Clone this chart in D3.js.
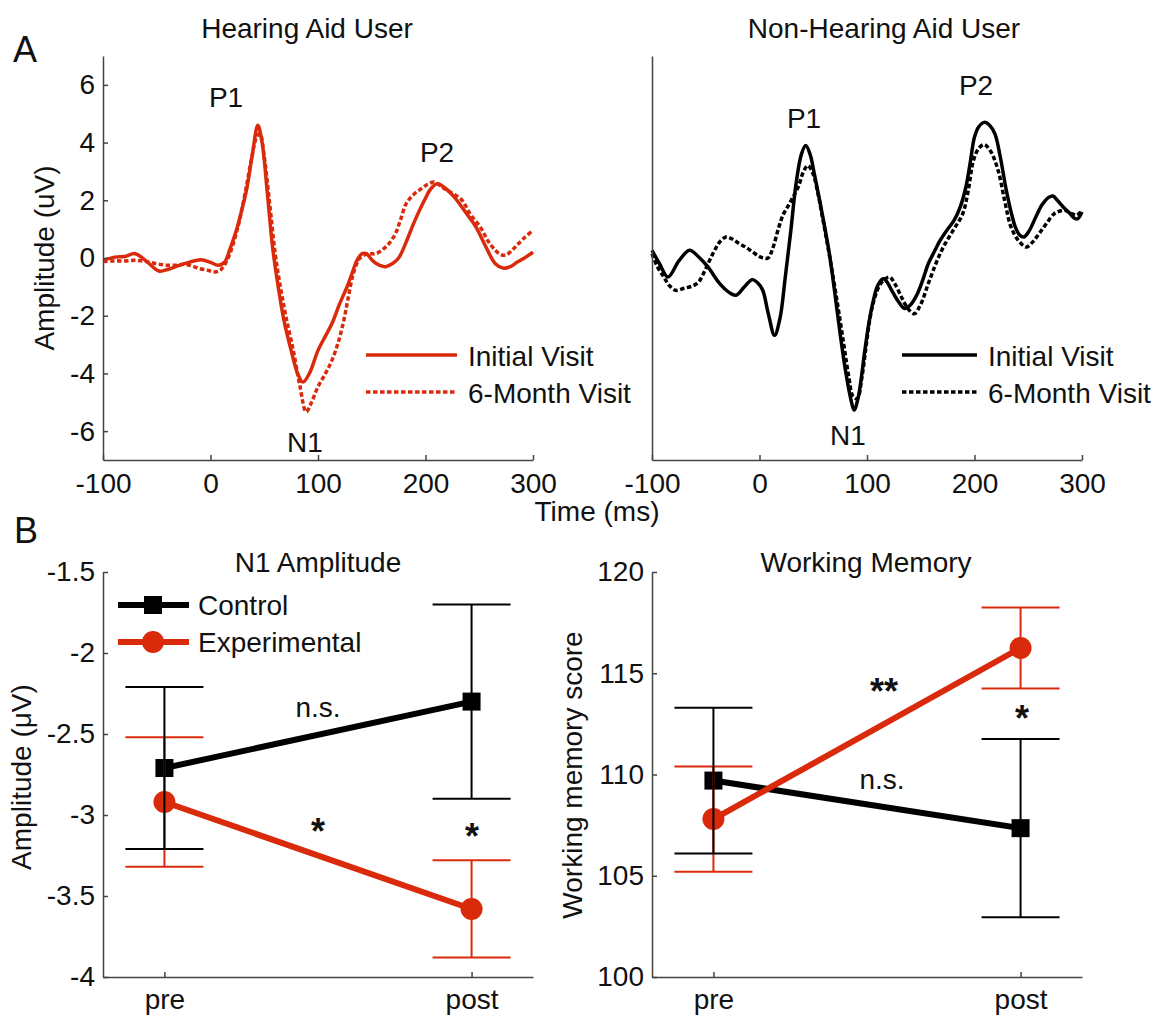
<!DOCTYPE html>
<html>
<head>
<meta charset="utf-8">
<script src="https://cdn.jsdelivr.net/npm/d3@7"></script>
<style>
  body { margin: 0; background: #fff; }
  svg text { font-family: "Liberation Sans", Arial, sans-serif; fill: #111; }
</style>
</head>
<body>
<svg width="1155" height="1016"></svg>
<script>
// ---- data: ERP waveforms, [time ms, amplitude uV]
let haInitial = [[-100,-0.08],[-89,0.03],[-80,0.05],[-70,0.15],[-60,-0.1],[-48,-0.45],[-40,-0.4],[-31,-0.28],[-20,-0.15],[-9,-0.06],[0,-0.15],[7,-0.25],[13,-0.15],[18,0.3],[24,0.95],[30,1.8],[34,2.45],[39,3.6],[44,4.6],[48,4.0],[53,2.2],[58,0.3],[63,-1.0],[68,-2.1],[75,-3.2],[81,-4.0],[86,-4.3],[92,-4.0],[100,-3.2],[107,-2.7],[113,-2.27],[120,-1.6],[127,-1.0],[132,-0.5],[136,-0.1],[141,0.15],[145,0.15],[151,-0.1],[157,-0.25],[163,-0.3],[169,-0.2],[175,0.0],[182,0.55],[189,1.2],[199,2.0],[205,2.4],[211,2.57],[219,2.4],[227,2.1],[237,1.6],[247,1.07],[256,0.4],[265,-0.2],[272,-0.35],[279,-0.3],[285,-0.15],[292,0.0],[300,0.2]];
let ha6Month = [[-100,-0.12],[-90,-0.1],[-80,-0.1],[-70,-0.08],[-60,-0.12],[-50,-0.2],[-41,-0.25],[-32,-0.25],[-24,-0.22],[-17,-0.28],[-10,-0.37],[-3,-0.42],[3,-0.48],[8,-0.45],[12,-0.3],[17,0.05],[22,0.6],[27,1.3],[33,2.4],[38,3.4],[43,4.2],[46,4.3],[50,3.5],[55,1.9],[60,0.2],[65,-1.0],[70,-2.0],[77,-3.2],[83,-4.4],[89,-5.33],[94,-5.0],[100,-4.46],[107,-4.0],[113,-3.54],[119,-2.9],[124,-2.16],[128,-1.4],[132,-0.66],[136,-0.2],[139,0.0],[144,0.12],[148,0.15],[154,0.15],[161,0.32],[166,0.5],[172,0.84],[177,1.35],[182,1.88],[189,2.2],[196,2.4],[202,2.55],[208,2.63],[214,2.5],[220,2.34],[227,2.2],[234,2.0],[242,1.5],[251,1.07],[258,0.6],[265,0.27],[270,0.12],[275,0.1],[280,0.25],[285,0.44],[292,0.7],[300,0.96]];
let nhaInitial = [[-100,0.27],[-93,-0.2],[-85,-0.66],[-75,-0.1],[-65,0.27],[-57,0.05],[-48,-0.31],[-37,-0.89],[-28,-1.2],[-22,-1.29],[-14,-1.0],[-7,-0.75],[-2,-0.85],[3,-1.12],[8,-1.9],[14,-2.68],[19,-2.1],[24,-0.66],[29,0.9],[34,2.57],[39,3.6],[43,3.9],[47,3.6],[51,2.92],[58,1.6],[65,0.15],[70,-1.2],[75,-2.62],[80,-3.9],[85,-4.9],[88,-5.27],[92,-4.8],[98,-3.2],[102,-2.2],[106,-1.46],[110,-0.95],[115,-0.72],[119,-0.85],[123,-1.12],[129,-1.5],[135,-1.75],[141,-1.6],[147,-1.23],[152,-0.75],[157,-0.2],[163,0.25],[168,0.61],[175,1.0],[181,1.3],[187,1.8],[192,2.46],[196,3.3],[200,4.19],[204,4.55],[209,4.7],[214,4.6],[219,4.3],[224,3.5],[229,2.46],[234,1.6],[238,1.07],[242,0.8],[246,0.73],[251,0.95],[257,1.42],[263,1.85],[269,2.1],[273,2.15],[277,2.0],[283,1.75],[289,1.53],[293,1.38],[296,1.36],[300,1.6]];
let nha6Month = [[-100,0.15],[-95,-0.3],[-89,-0.66],[-84,-0.95],[-78,-1.12],[-70,-1.05],[-61,-0.95],[-56,-0.8],[-51,-0.45],[-46,-0.05],[-41,0.32],[-36,0.6],[-31,0.73],[-25,0.65],[-19,0.5],[-13,0.38],[-6,0.2],[0,0.05],[4,0.0],[8,0.0],[12,0.3],[18,1.07],[22,1.5],[26,1.76],[31,2.1],[36,2.46],[41,3.0],[45,3.2],[50,2.9],[54,2.3],[58,1.53],[65,0.1],[72,-1.46],[78,-2.9],[83,-4.1],[87,-4.8],[91,-4.87],[95,-4.2],[99,-3.1],[103,-2.04],[107,-1.4],[111,-1.0],[116,-0.75],[121,-0.66],[126,-0.9],[132,-1.35],[138,-1.75],[144,-1.93],[150,-1.6],[157,-0.89],[164,-0.2],[171,0.38],[180,0.95],[189,1.53],[194,2.3],[199,3.38],[204,3.8],[209,3.93],[215,3.7],[222,3.03],[228,2.0],[234,1.07],[241,0.6],[248,0.38],[254,0.55],[260,0.84],[267,1.2],[274,1.53],[279,1.62],[284,1.65],[290,1.55],[295,1.48],[300,1.65]];

let timeTicks = [-100, 0, 100, 200, 300];
let ampTicks = [-6, -4, -2, 0, 2, 4, 6];

// ---- data: group means and error bars (pre, post)
let sessions = ["pre", "post"];
let n1Control = [-2.71, -2.30], n1ControlErr = [0.50, 0.60];
let n1Exp = [-2.92, -3.58], n1ExpErr = [0.40, 0.30];
let wmControl = [109.7, 107.35], wmControlErr = [3.6, 4.4];
let wmExp = [107.8, 116.25], wmExpErr = [2.6, 2.0];
let n1Ticks = [-4, -3.5, -3, -2.5, -2, -1.5];
let wmTicks = [100, 105, 110, 115, 120];

const RED = "#da2a0c";
const FS = 28;
const plain = d => String(d);   // hyphen-minus, as in the original

let svg = d3.select("svg");
svg.append("rect").attr("width", 1155).attr("height", 1016).attr("fill", "#fff");

function styleAxis(g) {
    g.select(".domain").attr("stroke", "#444").attr("stroke-width", 1.5);
    g.selectAll(".tick line").attr("stroke", "#444").attr("stroke-width", 1.5);
    g.selectAll(".tick text").attr("font-size", FS).attr("fill", "#111")
        .style("font-family", "'Liberation Sans', Arial, sans-serif");
}

function label(txt, x, y, opts) {
    opts = opts || {};
    let t = svg.append("text")
        .attr("x", x).attr("y", y)
        .attr("font-size", opts.size || FS)
        .attr("text-anchor", opts.anchor || "middle")
        .text(txt);
    if (opts.bold) t.attr("font-weight", "bold");
    return t;
}

// ---- panel A: waveforms
let yAmp = d3.scaleLinear().domain([-7, 7]).range([460, 56]);

function wavePanel(x0, data1, data2, color, showY) {
    let x = d3.scaleLinear().domain([-100, 300]).range([x0, x0 + 430]);
    let line = d3.line()
        .x(d => x(d[0]))
        .y(d => yAmp(d[1]))
        .curve(d3.curveCatmullRom.alpha(0.5));

    svg.append("path").datum(data2)
        .attr("d", line).attr("fill", "none")
        .attr("stroke", color).attr("stroke-width", 3.5)
        .attr("stroke-dasharray", "4.5,2.5");
    svg.append("path").datum(data1)
        .attr("d", line).attr("fill", "none")
        .attr("stroke", color).attr("stroke-width", 3.5);

    let gx = svg.append("g").attr("transform", "translate(0,460)")
        .call(d3.axisBottom(x).tickValues(timeTicks).tickFormat(plain)
            .tickSizeInner(-5).tickSizeOuter(0).tickPadding(13));
    styleAxis(gx);
    let yAx = d3.axisLeft(yAmp).tickSizeOuter(0);
    if (showY) yAx.tickValues(ampTicks).tickFormat(plain).tickSizeInner(-5).tickPadding(8);
    else yAx.tickValues([]);
    let gy = svg.append("g").attr("transform", "translate(" + x0 + ",0)").call(yAx);
    styleAxis(gy);
    return x;
}

wavePanel(103, haInitial, ha6Month, RED, true);
wavePanel(652, nhaInitial, nha6Month, "#000", false);

// legends for panel A
function waveLegend(x1, x2, color) {
    svg.append("line").attr("x1", x1).attr("x2", x2).attr("y1", 355).attr("y2", 355)
        .attr("stroke", color).attr("stroke-width", 3.5);
    svg.append("line").attr("x1", x1).attr("x2", x2).attr("y1", 392).attr("y2", 392)
        .attr("stroke", color).attr("stroke-width", 3.5).attr("stroke-dasharray", "4.5,2.5");
    label("Initial Visit", x2 + 11, 366, {anchor: "start"});
    label("6-Month Visit", x2 + 11, 403, {anchor: "start"});
}
waveLegend(366, 457, RED);
waveLegend(902, 977, "#000");

label("Hearing Aid User", 307, 38);
label("Non-Hearing Aid User", 884, 38);
label("A", 25, 62, {size: 36});
label("P1", 226, 107);
label("P2", 437, 162);
label("N1", 305, 452);
label("P1", 804, 128);
label("P2", 976, 95);
label("N1", 848, 445);
label("Time (ms)", 597, 521);
label("Amplitude (uV)", 0, 0).attr("transform", "translate(54,258) rotate(-90)");

// ---- panel B: pre/post group means
function groupPanel(x0, yDomain, yTicks, ctrl, ctrlErr, exp, expErr) {
    let x = d3.scaleLinear().domain([0.8, 2.2]).range([x0, x0 + 430]);
    let y = d3.scaleLinear().domain(yDomain).range([977, 572]);
    let line = d3.line().x((d, i) => x(i + 1)).y(d => y(d));

    // lines and markers
    svg.append("path").datum(ctrl).attr("d", line).attr("fill", "none")
        .attr("stroke", "#000").attr("stroke-width", 6);
    svg.selectAll(null).data(ctrl).enter().append("rect")
        .attr("x", (d, i) => x(i + 1) - 9).attr("y", d => y(d) - 9)
        .attr("width", 18).attr("height", 18).attr("fill", "#000");
    svg.append("path").datum(exp).attr("d", line).attr("fill", "none")
        .attr("stroke", RED).attr("stroke-width", 6);
    svg.selectAll(null).data(exp).enter().append("circle")
        .attr("cx", (d, i) => x(i + 1)).attr("cy", d => y(d))
        .attr("r", 11).attr("fill", RED);

    // error bars
    function errBars(means, errs, color) {
        means.forEach((m, i) => {
            let cx = x(i + 1), lo = y(m - errs[i]), hi = y(m + errs[i]);
            let g = svg.append("g").attr("stroke", color).attr("stroke-width", 2);
            g.append("line").attr("x1", cx).attr("x2", cx).attr("y1", lo).attr("y2", hi);
            g.append("line").attr("x1", cx - 39).attr("x2", cx + 39).attr("y1", lo).attr("y2", lo);
            g.append("line").attr("x1", cx - 39).attr("x2", cx + 39).attr("y1", hi).attr("y2", hi);
        });
    }
    errBars(exp, expErr, RED);
    errBars(ctrl, ctrlErr, "#000");

    let gx = svg.append("g").attr("transform", "translate(0,977)")
        .call(d3.axisBottom(x).tickValues([1, 2]).tickFormat((d, i) => sessions[i])
            .tickSizeInner(-5).tickSizeOuter(0).tickPadding(12));
    styleAxis(gx);
    let gy = svg.append("g").attr("transform", "translate(" + x0 + ",0)")
        .call(d3.axisLeft(y).tickValues(yTicks).tickFormat(plain).tickSizeInner(-5).tickSizeOuter(0).tickPadding(8));
    styleAxis(gy);
    return {x: x, y: y};
}

groupPanel(103, [-4, -1.5], n1Ticks, n1Control, n1ControlErr, n1Exp, n1ExpErr);
groupPanel(652, [100, 120], wmTicks, wmControl, wmControlErr, wmExp, wmExpErr);

// legend panel B
svg.append("line").attr("x1", 118).attr("x2", 189).attr("y1", 605).attr("y2", 605)
    .attr("stroke", "#000").attr("stroke-width", 6);
svg.append("rect").attr("x", 144).attr("y", 596).attr("width", 18).attr("height", 18).attr("fill", "#000");
svg.append("line").attr("x1", 118).attr("x2", 189).attr("y1", 642).attr("y2", 642)
    .attr("stroke", RED).attr("stroke-width", 6);
svg.append("circle").attr("cx", 153).attr("cy", 642).attr("r", 11).attr("fill", RED);
label("Control", 198, 615, {anchor: "start"});
label("Experimental", 198, 652, {anchor: "start"});

label("B", 26, 543, {size: 36});
label("N1 Amplitude", 318, 572);
label("Working Memory", 866, 572);
label("Amplitude (\u03bcV)", 0, 0).attr("transform", "translate(31,777) rotate(-90)");
label("Working memory score", 0, 0).attr("transform", "translate(582,775) rotate(-90)");

label("n.s.", 318, 717);
label("*", 318, 844, {size: 36, bold: true});
label("*", 472, 849, {size: 36, bold: true});
label("**", 884, 704, {size: 36, bold: true});
label("*", 1022, 731, {size: 36, bold: true});
label("n.s.", 882, 789);
</script>
</body>
</html>
